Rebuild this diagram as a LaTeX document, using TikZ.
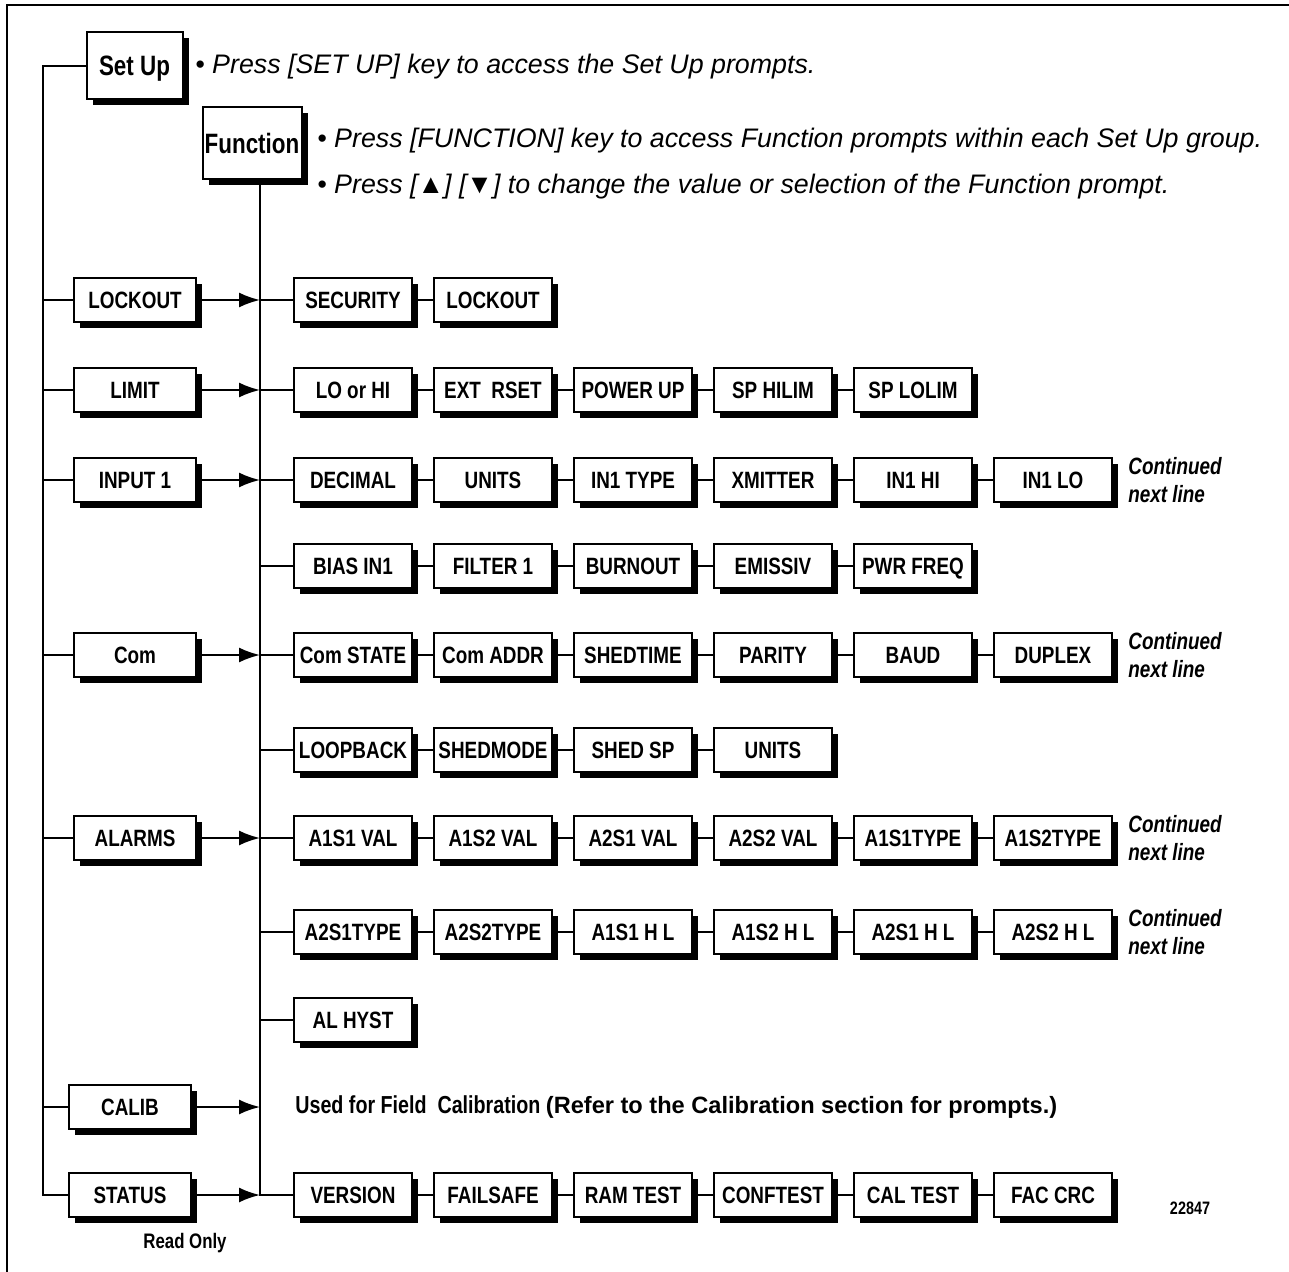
\documentclass[tikz,border=0pt]{standalone}
\usepackage{fontspec}
\setmainfont{Liberation Sans}
\newfontfamily\lblfont[FakeStretch=0.8]{Liberation Sans}
\usetikzlibrary{positioning,shadows,arrows.meta}

\newcommand\boxfont{\lblfont\bfseries\fontsize{11.8}{13}\selectfont}
\newcommand\keyfont{\lblfont\bfseries\fontsize{14}{16}\selectfont}
\newcommand\hintfont{\itshape\fontsize{13.4}{15}\selectfont}
\newcommand\contfont{\lblfont\bfseries\itshape\fontsize{11.8}{14}\selectfont}

\tikzstyle{menubox}=[draw=black,line width=1pt,fill=white,inner sep=1pt,minimum width=61pt,minimum height=22pt,text height=8.6pt,text depth=0pt,font=\boxfont,drop shadow={shadow xshift=3pt,shadow yshift=-3pt,fill=black,opacity=1}]
\tikzstyle{prompt}=[menubox,minimum width=59pt]
\tikzstyle{keybox}=[menubox,font=\keyfont,inner sep=0pt,text height=10pt]
\tikzstyle{hint}=[anchor=west,inner sep=0pt,font=\hintfont]
\tikzstyle{cont}=[anchor=west,inner sep=0pt,align=left,font=\contfont]
\tikzstyle{link}=[line width=1pt]
\tikzstyle{feed}=[link,-{Latex[length=10.5pt,width=7.5pt]}]

\begin{document}
\begin{tikzpicture}[x=0.5pt,y=-0.5pt,node distance=10pt]
  \useasboundingbox (0,0) rectangle (1289,1272);
  \draw[line width=1.2pt] (7,1272) -- (7,5) -- (1289,5);

  % keys and hints
  \node[keybox,minimum width=48pt,minimum height=33.5pt] (setup) at (134.5,66) {Set Up};
  \node[keybox,minimum width=49.5pt,minimum height=36pt] (func) at (252,143.5) {Function};
  \node[hint] (hint1) at (195,67) {• Press [SET UP] key to access the Set Up prompts.};
  \node[hint] (hint2) at (317,141) {• Press [FUNCTION] key to access Function prompts within each Set Up group.};
  \node[hint] (hint3) at (317,187) {• Press [▲] [▼] to change the value or selection of the Function prompt.};

  % set up groups
  \node[menubox] (lock) at (135,300) {LOCKOUT};
  \node[menubox] (limit) at (135,390) {LIMIT};
  \node[menubox] (input) at (135,480) {INPUT 1};
  \node[menubox] (com) at (135,655) {Com};
  \node[menubox] (alarms) at (135,838) {ALARMS};
  \node[menubox] (calib) at (130,1107) {CALIB};
  \node[menubox] (status) at (130,1195) {STATUS};
  \node[font=\lblfont\bfseries\fontsize{10.5}{12}\selectfont] (ronly) at (185,1243) {Read Only};

  % function prompts
  \node[prompt] (lk1) at (353,300) {SECURITY};
  \node[prompt,right=of lk1] (lk2) {LOCKOUT};

  \node[prompt] (lm1) at (353,390) {LO or HI};
  \node[prompt,right=of lm1] (lm2) {EXT\ \ RSET};
  \node[prompt,right=of lm2] (lm3) {POWER UP};
  \node[prompt,right=of lm3] (lm4) {SP HILIM};
  \node[prompt,right=of lm4] (lm5) {SP LOLIM};

  \node[prompt] (in1) at (353,480) {DECIMAL};
  \node[prompt,right=of in1] (in2) {UNITS};
  \node[prompt,right=of in2] (in3) {IN1 TYPE};
  \node[prompt,right=of in3] (in4) {XMITTER};
  \node[prompt,right=of in4] (in5) {IN1 HI};
  \node[prompt,right=of in5] (in6) {IN1 LO};
  \node[cont] (more1) at (1128,480) {Continued\\next line};

  \node[prompt] (ib1) at (353,566) {BIAS IN1};
  \node[prompt,right=of ib1] (ib2) {FILTER 1};
  \node[prompt,right=of ib2] (ib3) {BURNOUT};
  \node[prompt,right=of ib3] (ib4) {EMISSIV};
  \node[prompt,right=of ib4] (ib5) {PWR FREQ};

  \node[prompt] (cm1) at (353,655) {Com STATE};
  \node[prompt,right=of cm1] (cm2) {Com ADDR};
  \node[prompt,right=of cm2] (cm3) {SHEDTIME};
  \node[prompt,right=of cm3] (cm4) {PARITY};
  \node[prompt,right=of cm4] (cm5) {BAUD};
  \node[prompt,right=of cm5] (cm6) {DUPLEX};
  \node[cont] (more2) at (1128,655) {Continued\\next line};

  \node[prompt] (cl1) at (353,750) {LOOPBACK};
  \node[prompt,right=of cl1] (cl2) {SHEDMODE};
  \node[prompt,right=of cl2] (cl3) {SHED SP};
  \node[prompt,right=of cl3] (cl4) {UNITS};

  \node[prompt] (al1) at (353,838) {A1S1 VAL};
  \node[prompt,right=of al1] (al2) {A1S2 VAL};
  \node[prompt,right=of al2] (al3) {A2S1 VAL};
  \node[prompt,right=of al3] (al4) {A2S2 VAL};
  \node[prompt,right=of al4] (al5) {A1S1TYPE};
  \node[prompt,right=of al5] (al6) {A1S2TYPE};
  \node[cont] (more3) at (1128,838) {Continued\\next line};

  \node[prompt] (ah1) at (353,932) {A2S1TYPE};
  \node[prompt,right=of ah1] (ah2) {A2S2TYPE};
  \node[prompt,right=of ah2] (ah3) {A1S1 H L};
  \node[prompt,right=of ah3] (ah4) {A1S2 H L};
  \node[prompt,right=of ah4] (ah5) {A2S1 H L};
  \node[prompt,right=of ah5] (ah6) {A2S2 H L};
  \node[cont] (more4) at (1128,932) {Continued\\next line};

  \node[prompt] (hy1) at (353,1020) {AL HYST};

  \node[anchor=west,inner sep=0pt] (calnote) at (295,1107) {{\lblfont\bfseries\fontsize{12.3}{14}\selectfont Used for Field\ \ Calibration} {\bfseries\fontsize{11.8}{14}\selectfont (Refer to the Calibration section for prompts.)}};

  \node[prompt] (st1) at (353,1195) {VERSION};
  \node[prompt,right=of st1] (st2) {FAILSAFE};
  \node[prompt,right=of st2] (st3) {RAM TEST};
  \node[prompt,right=of st3] (st4) {CONFTEST};
  \node[prompt,right=of st4] (st5) {CAL TEST};
  \node[prompt,right=of st5] (st6) {FAC CRC};
  \node[font=\lblfont\bfseries\fontsize{9}{10}\selectfont] (fignum) at (1190,1208) {22847};

  % buses
  \coordinate (lbus) at (43,66);
  \coordinate (fbus) at (260,180);
  \draw[link] (setup) -- (lbus) -- (lbus |- status) -- (status);
  \foreach \g in {lock,limit,input,com,alarms,calib}
    \draw[link] (lbus |- \g) -- (\g);
  \draw[link] (fbus) -- (fbus |- st1) -- (st1);
  \foreach \g in {lock,limit,input,com,alarms,calib,status}
    \draw[feed] (\g) -- (fbus |- \g);
  \foreach \r in {lk1,lm1,in1,ib1,cm1,cl1,al1,ah1,hy1}
    \draw[link] (fbus |- \r) -- (\r);

  % chains
  \foreach \a/\b in {lk1/lk2,lm1/lm2,lm2/lm3,lm3/lm4,lm4/lm5,
      in1/in2,in2/in3,in3/in4,in4/in5,in5/in6,ib1/ib2,ib2/ib3,ib3/ib4,ib4/ib5,
      cm1/cm2,cm2/cm3,cm3/cm4,cm4/cm5,cm5/cm6,cl1/cl2,cl2/cl3,cl3/cl4,
      al1/al2,al2/al3,al3/al4,al4/al5,al5/al6,ah1/ah2,ah2/ah3,ah3/ah4,ah4/ah5,ah5/ah6,
      st1/st2,st2/st3,st3/st4,st4/st5,st5/st6}
    \draw[link] (\a) -- (\b);
\end{tikzpicture}
\end{document}
